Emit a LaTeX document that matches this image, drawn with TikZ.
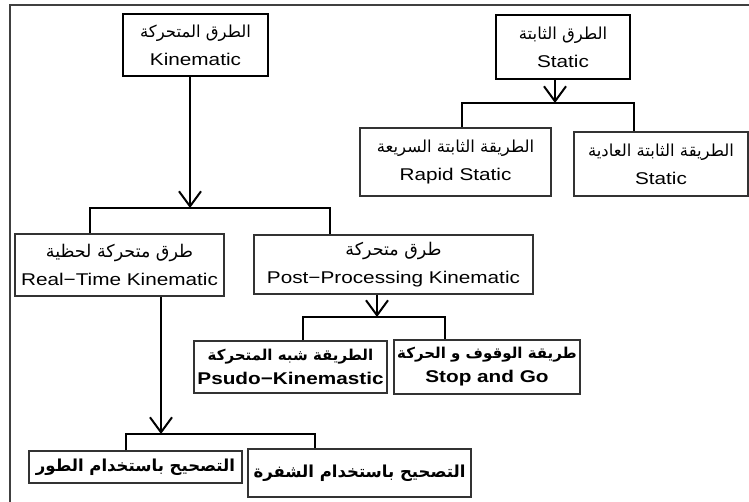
\documentclass[tikz,border=0pt]{standalone}
\usepackage{fontspec}
\setmainfont{Liberation Sans}[FakeStretch=1.22]
\newfontfamily\ar[Script=Arabic]{DejaVu Sans}
\TeXXeTstate=1
\usetikzlibrary{arrows.meta}
\newcommand{\AR}[1]{{\ar\beginR #1\endR}}
\begin{document}
\begin{tikzpicture}[x=1pt,y=-1pt,
  every node/.style={inner sep=0pt, align=center, font=\fontsize{17}{28}\selectfont},
  topbox/.style={draw, line width=2.6pt},
  subbox/.style={draw, line width=1.2pt, draw=black!80},
  conn/.style={line width=2pt},
  arr/.style={line width=2pt, -{Straight Barb[length=15pt,width=22pt,line width=2pt]}}]
\useasboundingbox (0,0) rectangle (749,502);
% frame
\draw[line width=1.5pt, black!75] (10,502) -- (10,5) -- (749,5);
% nodes
\node[topbox, minimum width=145, minimum height=62] (kin) at (195.5,45)
  {\AR{\fontsize{16.5}{16}\selectfont الطرق المتحركة}\\Kinematic};
\node[topbox, minimum width=134, minimum height=64] (stat) at (563,47)
  {\AR{\fontsize{16.5}{16}\selectfont الطرق الثابتة}\\Static};
\node[subbox, minimum width=191, minimum height=68] (rapid) at (455.5,162)
  {\AR{\fontsize{16.5}{16}\selectfont الطريقة الثابتة السريعة}\\Rapid Static};
\node[subbox, minimum width=174, minimum height=64] (statn) at (661,164)
  {\AR{\fontsize{16.5}{16}\selectfont الطريقة الثابتة العادية}\\Static};
\node[subbox, minimum width=209, minimum height=62] (rtk) at (119.5,265)
  {\AR{\fontsize{17.5}{16}\selectfont طرق متحركة لحظية}\\Real−Time Kinematic};
\node[subbox, minimum width=279, minimum height=59] (ppk) at (393.5,264.5)
  {\AR{\fontsize{17.5}{16}\selectfont طرق متحركة}\\Post−Processing Kinematic};
\node[subbox, minimum width=193, minimum height=52, font=\fontsize{17}{24}\selectfont\bfseries] (psudo) at (290.5,367)
  {\AR{\fontsize{15}{14}\selectfont الطريقة شبه المتحركة}\\Psudo−Kinemastic};
\node[subbox, minimum width=186, minimum height=54, font=\fontsize{17}{24}\selectfont\bfseries] (stop) at (487,367)
  {\AR{\fontsize{15}{14}\selectfont طريقة الوقوف و الحركة}\\Stop and Go};
\node[subbox, minimum width=213, minimum height=32] (phase) at (135.5,467)
  {\AR{\fontsize{16.5}{16}\selectfont\bfseries التصحيح باستخدام الطور}};
\node[subbox, minimum width=223, minimum height=48] (code) at (359.5,473)
  {\AR{\fontsize{16.5}{16}\selectfont\bfseries التصحيح باستخدام الشفرة}};
% connector coordinates
\coordinate (k0) at (190,208);
\coordinate (kl) at (90,208);
\coordinate (kr) at (330,208);
\coordinate (s0) at (555,103);
\coordinate (sl) at (462,103);
\coordinate (sr) at (634,103);
\coordinate (p0) at (377,317);
\coordinate (pl) at (303,317);
\coordinate (pr) at (445,317);
\coordinate (r0) at (161,434);
\coordinate (rl) at (126,434);
\coordinate (rr) at (315,434);
% Kinematic
\draw[arr] (kin.south -| k0) -- (k0);
\draw[conn] (kl |- rtk.north) -- (kl) -- (kr) -- (kr |- ppk.north);
% Static
\draw[arr] (stat.south -| s0) -- (s0);
\draw[conn] (sl |- rapid.north) -- (sl) -- (sr) -- (sr |- statn.north);
% Post-processing
\draw[arr] (ppk.south -| p0) -- (p0);
\draw[conn] (pl |- psudo.north) -- (pl) -- (pr) -- (pr |- stop.north);
% Real-time
\draw[arr] (rtk.south -| r0) -- (r0);
\draw[conn] (rl |- phase.north) -- (rl) -- (rr) -- (rr |- code.north);
\end{tikzpicture}
\end{document}
